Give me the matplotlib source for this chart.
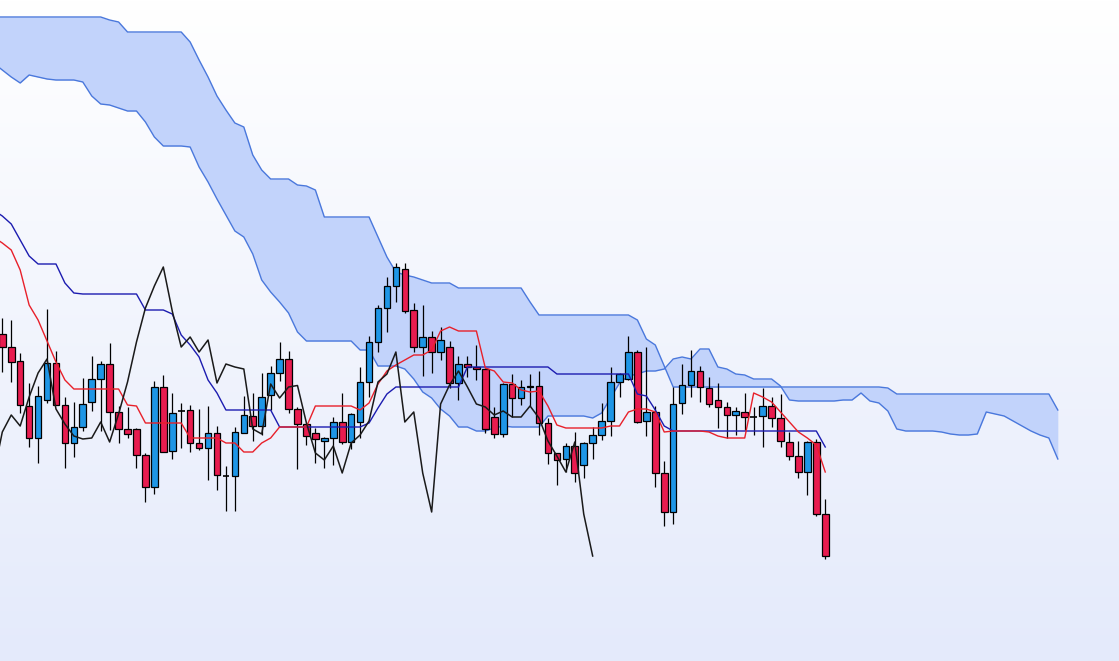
import numpy as np
import matplotlib
matplotlib.use("Agg")
import matplotlib.pyplot as plt
from matplotlib.colors import LinearSegmentedColormap

# ---------------- data (price units) ----------------
opens = [327,314,300,255,223,261,298,256,218,234,
         259,282,297,249,232,232,206,174,274,210,
         250,251,218,213,228,185,185,228,245,235,
         266,288,302,252,237,228,220,223,239,219,
         239,279,319,353,375,392,351,314,324,309,
         314,278,297,294,292,244,227,277,263,274,
         275,238,208,202,215,196,218,226,240,279,
         282,309,240,249,188,149,258,276,290,273,
         261,254,246,249,244,245,255,243,219,205,
         189,219,147]
highs = [343,341,308,278,275,352,310,264,259,283,
         305,300,318,255,254,233,208,280,286,268,
         258,256,252,255,235,195,234,265,268,288,
         295,319,310,254,238,233,224,244,268,248,
         294,325,356,384,398,398,358,356,330,334,
         320,305,305,316,293,254,278,287,281,287,
         290,243,208,218,229,219,234,258,294,288,
         325,311,314,255,200,274,297,311,295,284,
         278,259,254,268,254,273,264,267,229,220,
         220,222,162]
lows = [289,279,248,214,198,258,256,193,204,230,
        250,230,231,218,223,193,159,167,209,202,
        213,209,211,181,171,150,150,228,220,226,
        251,280,248,192,216,198,193,196,217,212,
        223,264,309,329,359,348,309,285,288,301,
        273,261,284,281,228,223,224,244,256,255,
        226,197,176,189,179,183,202,221,225,264,
        281,238,225,174,135,137,247,264,259,254,
        233,223,226,231,226,214,234,214,201,183,
        166,145,102]
closes = [314,299,256,223,265,298,256,218,234,257,
          282,297,249,232,227,206,174,274,209,248,
          250,218,213,228,186,185,229,246,235,264,
          288,302,252,237,225,222,223,239,219,247,
          279,319,353,375,394,350,314,324,309,321,
          278,297,294,292,232,227,277,263,274,275.5,
          238,208,201,215,188,218,226,240,279,287,
          309,239,249,188,149,257,276,290,274,257,
          254,246,250,244,244,255,243,220,205,189,
          219,147,105]

# indicator lines, starting one period before the first visible candle
tenkan = [424,
          418,411,391,356,341,320,299,281,272,272,
          272,272,272,272,256,255,238,238,238,238,
          238,223,223,223,223,218,218,209,209,218,
          223,234,234,234,234,255,255,255,255,255,
          251,258,277,290,296,301,306,306,311,330,
          334,330,330,330,293,290,279,278,271,269,
          270,255,236,233,233,233,233,233,235,235,
          249,252,252,249,229,230,230,230,230,229,
          225,223,223,223,268,264,259,249,239,229,
          223,216,189]
kijun = [451,
         445,437,421,405,397,397,397,378,368,367,
         367,367,367,367,367,367,351,351,351,347,
         326,316,304,281,268,251,251,251,251,251,
         251,234,234,234,234,234,234,234,234,234,
         234,238,253,267,274,274,274,274,274,274,
         274,274,294,294,294,294,294,294,294,294,
         294,294,287,287,287,287,287,287,287,287,
         287,267,265,251,235,230,230,230,230,230,
         230,230,230,230,230,230,230,230,230,230,
         230,230,214]
senkou_a = [598,
            591,584,578,586,584,582,581,581,581,579,
            565,557,556,553,550,550,539,524,515,515,
            515,514,494,479,462,446,430,424,407,381,
            369,359,348,329,320,320,320,320,320,320,
            311,311,295,295,295,292,282,269,263,252,
            245,234,234,230,230,233,235,234,234,234,
            234,245,245,245,245,245,243,248,263,278,
            285,287,290,290,292,302,304,302,312,312,
            294,292,287,286,282,282,282,275,261,260,
            260,260,260,260,261,261,268,260,258,250,
            232,230,230,230,230,229,227,226,226,227,
            249,247,245,240,235,230,226,223,202]
senkou_b = [644,
            644,644,644,644,644,644,644,644,644,644,
            644,644,641,639,629,629,629,629,629,629,
            629,619,601,584,565,551,538,534,506,491,
            482,482,482,476,475,471,444,444,444,444,
            444,444,424,404,389,386,384,381,378,378,
            378,373,373,373,373,373,373,373,373,359,
            346,346,346,346,346,346,346,346,346,346,
            346,341,322,316,295,274,274,274,274,274,
            274,274,274,274,274,274,274,274,274,274,
            274,274,274,274,274,274,274,274,274,273,
            267,267,267,267,267,267,267,267,267,267,
            267,267,267,267,267,267,267,267,251]
displacement = 26

# ---------------- figure ----------------
W, H = 1119, 661
fig = plt.figure(figsize=(W / 100, H / 100), dpi=100)
ax = fig.add_axes([0, 0, 1, 1])
ax.set_axis_off()

x0_px, step_px = 2.3, 8.945
xlim = (-x0_px / step_px, (W - x0_px) / step_px)
ylim = (0, H)
ax.set_xlim(*xlim)
ax.set_ylim(*ylim)

# background gradient
grad = LinearSegmentedColormap.from_list("bg", ["#e4eafb", "#ffffff"])
ax.imshow(np.linspace(0, 1, 256).reshape(-1, 1), aspect="auto", cmap=grad,
          extent=[xlim[0], xlim[1], ylim[0], ylim[1]], origin="lower", zorder=0)

n = len(closes)
idx = np.arange(n)
line_idx = np.arange(-1, n)
cloud_idx = np.arange(-1, n + displacement)

# cloud
ax.fill_between(cloud_idx, senkou_a, senkou_b, color="#c2d3fb", linewidth=0, zorder=1)
ax.plot(cloud_idx, senkou_a, color="#4a78dc", lw=1.0, zorder=2)
ax.plot(cloud_idx, senkou_b, color="#4a78dc", lw=1.0, zorder=2)

# candles
o = np.array(opens, float); c = np.array(closes, float)
h = np.array(highs, float); l = np.array(lows, float)
ax.vlines(idx, l, h, color="black", lw=0.9, zorder=4)
up = c > o
dn = c < o
dj = c == o
bw = 0.74
ax.bar(idx[up], (c - o)[up], bottom=o[up], width=bw, color="#1e96e6",
       edgecolor="black", linewidth=0.9, zorder=5)
ax.bar(idx[dn], (c - o)[dn], bottom=o[dn], width=bw, color="#e81c4f",
       edgecolor="black", linewidth=0.9, zorder=5)
ax.hlines(o[dj], idx[dj] - bw / 2, idx[dj] + bw / 2, color="black", lw=1.2, zorder=5)

# lines
ax.plot(line_idx, kijun, color="#1c1cb0", lw=1.0, zorder=6)
ax.plot(line_idx, tenkan, color="#e8202a", lw=1.0, zorder=6)
ax.plot(idx - displacement, closes, color="#1a1a1a", lw=1.1, zorder=7)

fig.savefig("out.png", dpi=100)
